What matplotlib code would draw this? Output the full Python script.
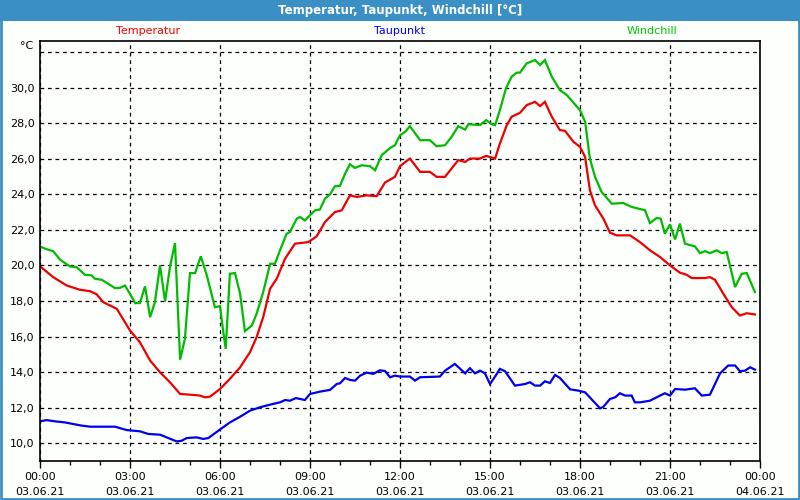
import matplotlib
matplotlib.use("Agg")
import matplotlib.pyplot as plt
from matplotlib.patches import Rectangle
import numpy as np

# hours since 03.06.21 00:00 and values in degC
temp_h = [0, 0.44, 0.89, 1.33, 1.67, 1.89, 2.11, 2.56, 3.0, 3.33, 3.67, 4.0, 4.33, 4.67,
          5.0, 5.33, 5.5, 5.67, 6.0, 6.33, 6.67, 7.0, 7.22, 7.44, 7.67, 7.89, 8.17, 8.5,
          8.94, 9.22, 9.5, 9.83, 10.06, 10.33, 10.56, 10.89, 11.22, 11.5, 11.83, 12.0,
          12.33, 12.67, 13.0, 13.22, 13.5, 13.94, 14.17, 14.33, 14.67, 14.87, 15.17,
          15.33, 15.56, 15.72, 16.0, 16.22, 16.5, 16.67, 16.83, 17.06, 17.33, 17.5,
          17.78, 18.0, 18.17, 18.33, 18.5, 18.78, 19.0, 19.22, 19.67, 20.0, 20.33,
          20.67, 21.0, 21.33, 21.56, 21.72, 22.17, 22.33, 22.5, 22.78, 23.06, 23.33,
          23.56, 23.83]
temp = [19.95, 19.34, 18.87, 18.63, 18.55, 18.37, 17.93, 17.56, 16.34, 15.68, 14.65,
        13.99, 13.43, 12.77, 12.73, 12.68, 12.58, 12.62, 13.05, 13.62, 14.27, 15.12,
        15.96, 17.09, 18.69, 19.25, 20.38, 21.22, 21.31, 21.63, 22.44, 23.0, 23.1,
        23.94, 23.85, 23.94, 23.89, 24.66, 24.98, 25.58, 26.01, 25.26, 25.26, 24.98,
        24.98, 25.92, 25.82, 26.01, 26.01, 26.16, 26.01, 26.85, 27.89, 28.36, 28.58,
        29.01, 29.2, 28.96, 29.2, 28.36, 27.61, 27.57, 26.95, 26.67, 26.1, 24.23,
        23.38, 22.63, 21.84, 21.69, 21.69, 21.31, 20.85, 20.47, 20.0, 19.59, 19.47,
        19.29, 19.29, 19.34, 19.19, 18.4, 17.65, 17.18, 17.31, 17.24]

dew_h = [0, 0.22, 0.5, 0.83, 1.11, 1.39, 1.67, 2.5, 2.89, 3.33, 3.61, 4.0, 4.28, 4.56,
         4.72, 4.89, 5.22, 5.44, 5.61, 6.0, 6.33, 6.67, 7.0, 7.33, 7.67, 8.0, 8.17,
         8.33, 8.53, 8.83, 9.0, 9.33, 9.67, 9.89, 10.0, 10.17, 10.33, 10.5, 10.67,
         10.89, 11.11, 11.33, 11.5, 11.67, 11.83, 12.0, 12.33, 12.5, 12.67, 13.33,
         13.5, 13.83, 14.17, 14.33, 14.5, 14.67, 14.83, 15.0, 15.17, 15.33, 15.5,
         15.83, 16.17, 16.33, 16.5, 16.67, 16.83, 17.0, 17.17, 17.33, 17.67, 17.94,
         18.17, 18.67, 18.78, 19.0, 19.17, 19.33, 19.5, 19.72, 19.83, 20.0, 20.33,
         20.67, 20.83, 21.0, 21.17, 21.5, 21.83, 22.06, 22.33, 22.67, 22.94, 23.17,
         23.33, 23.5, 23.67, 23.83]
dew = [11.23, 11.3, 11.23, 11.17, 11.08, 10.99, 10.93, 10.93, 10.74, 10.67, 10.52,
       10.48, 10.29, 10.1, 10.14, 10.29, 10.33, 10.24, 10.29, 10.77, 11.17, 11.49,
       11.83, 12.02, 12.17, 12.3, 12.43, 12.39, 12.54, 12.43, 12.77, 12.9, 13.0,
       13.33, 13.37, 13.67, 13.56, 13.52, 13.8, 13.97, 13.9, 14.1, 14.06, 13.71,
       13.8, 13.75, 13.75, 13.52, 13.71, 13.75, 14.08, 14.46, 13.93, 14.22, 13.93,
       14.08, 13.93, 13.33, 13.75, 14.18, 14.05, 13.24, 13.33, 13.43, 13.24, 13.24,
       13.48, 13.39, 13.84, 13.67, 13.03, 12.96, 12.86, 11.96, 12.05, 12.49, 12.58,
       12.81, 12.68, 12.68, 12.3, 12.3, 12.39, 12.68, 12.81, 12.68, 13.05, 13.01,
       13.09, 12.68, 12.73, 13.93, 14.37, 14.37, 14.05, 14.08, 14.27, 14.14]

wc_h = [0, 0.17, 0.44, 0.67, 1.0, 1.22, 1.5, 1.72, 1.83, 2.06, 2.33, 2.5, 2.67, 2.83,
        3.0, 3.17, 3.33, 3.5, 3.67, 3.83, 4.0, 4.17, 4.33, 4.5, 4.67, 4.83, 5.0, 5.17,
        5.36, 5.56, 5.83, 6.0, 6.11, 6.19, 6.33, 6.5, 6.67, 6.83, 7.06, 7.22, 7.44,
        7.67, 7.83, 8.0, 8.22, 8.33, 8.56, 8.67, 8.83, 9.0, 9.17, 9.33, 9.5, 9.67,
        9.83, 10.0, 10.17, 10.33, 10.5, 10.72, 11.0, 11.17, 11.39, 11.67, 11.83,
        12.0, 12.17, 12.33, 12.67, 13.0, 13.22, 13.5, 13.72, 13.94, 14.17, 14.28,
        14.67, 14.87, 15.06, 15.17, 15.33, 15.53, 15.72, 15.89, 16.0, 16.22, 16.5,
        16.67, 16.83, 17.06, 17.33, 17.56, 18.0, 18.17, 18.33, 18.5, 18.72, 19.06,
        19.44, 19.72, 20.17, 20.33, 20.56, 20.69, 20.83, 21.0, 21.17, 21.33, 21.5,
        21.83, 22.0, 22.17, 22.33, 22.56, 22.72, 22.89, 23.17, 23.39, 23.56, 23.83]
windchill = [21.07, 20.94, 20.8, 20.32, 19.94, 19.9, 19.47, 19.44, 19.25, 19.19,
             18.91, 18.72, 18.74, 18.87, 18.4, 17.88, 17.88, 18.82, 17.09, 17.93, 20.0,
             17.97, 19.9, 21.26, 14.7, 15.87, 19.57, 19.57, 20.51, 19.44, 17.65, 17.71,
             16.25, 15.31, 19.53, 19.57, 18.4, 16.3, 16.62, 17.28, 18.5, 20.09, 20.09,
             20.85, 21.78, 21.88, 22.63, 22.72, 22.53, 22.82, 23.1, 23.14, 23.76, 24.0,
             24.45, 24.47, 25.16, 25.69, 25.48, 25.63, 25.58, 25.35, 26.2, 26.6, 26.76,
             27.32, 27.51, 27.83, 27.04, 27.04, 26.7, 26.76, 27.23, 27.83, 27.64, 27.94,
             27.89, 28.17, 27.94, 27.89, 28.73, 29.95, 30.61, 30.84, 30.84, 31.36,
             31.55, 31.27, 31.55, 30.61, 29.86, 29.58, 28.73, 28.08, 26.01, 24.98,
             24.13, 23.47, 23.51, 23.29, 23.1, 22.38, 22.67, 22.63, 21.78, 22.31,
             21.46, 22.35, 21.22, 21.07, 20.69, 20.8, 20.69, 20.85, 20.69, 20.75,
             18.78, 19.53, 19.57, 18.5]

x_ticks = [0, 3, 6, 9, 12, 15, 18, 21, 24]
x_labels = ["00:00\n03.06.21", "03:00\n03.06.21", "06:00\n03.06.21", "09:00\n03.06.21",
            "12:00\n03.06.21", "15:00\n03.06.21", "18:00\n03.06.21", "21:00\n03.06.21",
            "00:00\n04.06.21"]
y_ticks = [10, 12, 14, 16, 18, 20, 22, 24, 26, 28, 30]

blue_bar = "#3a90c4"
bg = "#fdfffd"

fig = plt.figure(figsize=(8, 5), dpi=100, facecolor=bg)
plt.rcParams['font.family'] = ['DejaVu Sans']

# title bar + frame
fig.patches.append(Rectangle((0, 0.958), 1, 0.042, transform=fig.transFigure,
                             facecolor=blue_bar, edgecolor='none', zorder=0))
fig.patches.append(Rectangle((0.001, 0.002), 0.998, 0.996, transform=fig.transFigure,
                             facecolor='none', edgecolor=blue_bar, linewidth=2, zorder=5))
fig.text(0.5, 0.979, "Temperatur, Taupunkt, Windchill [°C]", color='white',
         fontsize=8.5, fontweight='bold', ha='center', va='center')

ax = fig.add_axes([0.05, 0.078, 0.9, 0.84])
ax.set_facecolor(bg)

ax.plot(temp_h, temp, color='#ee0000', lw=1.6, solid_joinstyle='miter')
ax.plot(dew_h, dew, color='#0000ee', lw=1.6, solid_joinstyle='miter')
ax.plot(wc_h, windchill, color='#00bb00', lw=1.6, solid_joinstyle='miter')

ax.set_xlim(0, 24)
ax.set_ylim(9.0, 32.62)

ax.set_xticks(x_ticks)
ax.set_xticklabels(x_labels, fontsize=8, linespacing=1.55)
ax.set_xticks(np.arange(0, 25, 1), minor=True)
ax.tick_params(axis='x', which='major', length=5, width=1, pad=3)
ax.tick_params(axis='x', which='minor', length=3, width=1)

ax.set_yticks(y_ticks + [32])
ax.set_yticklabels(["%d,0" % v for v in y_ticks] + [""], fontsize=8)
ax.tick_params(axis='y', length=0, pad=4)

ax.grid(True, which='major', color='black', linestyle=(0, (3, 3)), linewidth=0.9)
for s in ax.spines.values():
    s.set_linewidth(1.2)

fig.text(0.042, 0.908, "°C", fontsize=8, ha='right', va='center')
fig.text(0.185, 0.938, "Temperatur", color='#ff0000', fontsize=8, ha='center', va='center')
fig.text(0.50, 0.938, "Taupunkt", color='#0000ff', fontsize=8, ha='center', va='center')
fig.text(0.815, 0.938, "Windchill", color='#00cc00', fontsize=8, ha='center', va='center')

fig.savefig("out.png", dpi=100, facecolor=bg)
